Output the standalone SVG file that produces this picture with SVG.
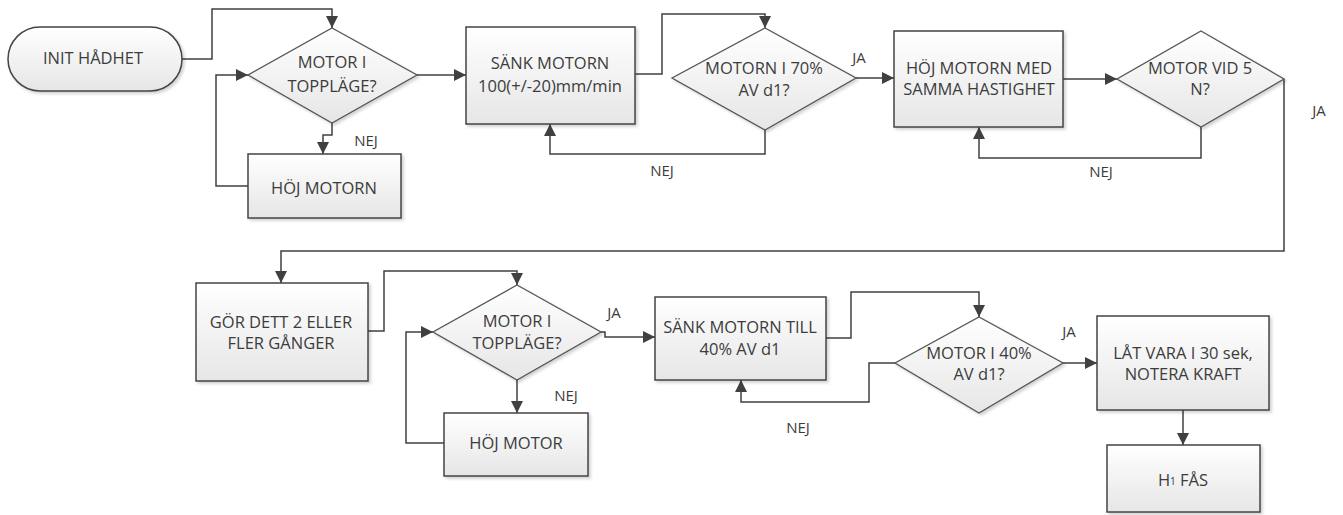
<svg xmlns="http://www.w3.org/2000/svg" width="1343" height="515" viewBox="0 0 1343 515">
<defs>
  <linearGradient id="g" x1="0" y1="0" x2="0" y2="1">
    <stop offset="0" stop-color="#ffffff"/>
    <stop offset="1" stop-color="#e6e6e6"/>
  </linearGradient>
  <filter id="sh" x="-10%" y="-10%" width="130%" height="130%">
    <feDropShadow dx="2" dy="2" stdDeviation="1.5" flood-color="#000" flood-opacity="0.18"/>
  </filter>
  <marker id="ah" markerUnits="userSpaceOnUse" markerWidth="12" markerHeight="12" refX="10" refY="5" orient="auto" viewBox="0 0 10 10">
    <path d="M0,0 L10,5 L0,10 z" fill="#404040"/>
  </marker>
</defs>
<style>
  .box{fill:url(#g);stroke:#444;stroke-width:1.5;filter:url(#sh)}
  .dia{fill:url(#g);stroke:#555;stroke-width:1.3;filter:url(#sh)}
  .t{font-family:"Open Sans","Liberation Sans",sans-serif;font-size:16.5px;fill:#3c3c3c;text-anchor:middle}
  .lb{font-family:"Open Sans","Liberation Sans",sans-serif;font-size:15px;fill:#3c3c3c;text-anchor:middle}
  .c{fill:none;stroke:#404040;stroke-width:1.5}
  .ca{fill:none;stroke:#404040;stroke-width:1.5;marker-end:url(#ah)}
</style>
<rect width="1343" height="515" fill="#ffffff"/>

<g id="connectors">
  <polyline class="ca" points="180,59 212,59 212,9 332,9 332,28"/>
  <polyline class="ca" points="417,75 466,75"/>
  <polyline class="ca" points="332,123 332,135 323,135 323,154"/>
  <polyline class="ca" points="248,186 216,186 216,75 248,75"/>
  <polyline class="ca" points="635,74 662,74 662,14 765,14 765,28"/>
  <polyline class="ca" points="856,78 894,78"/>
  <polyline class="ca" points="765,130 765,154 550,154 550,124"/>
  <polyline class="ca" points="1063,79 1117,79"/>
  <polyline class="ca" points="1201,127 1201,158 979,158 979,127"/>
  <polyline class="ca" points="1284,79 1284,251 281,251 281,283"/>
  <polyline class="ca" points="368,331 384,331 384,271 517,271 517,285"/>
  <polyline class="ca" points="601,332 605,332 605,337 655,337"/>
  <polyline class="ca" points="517,380 517,413"/>
  <polyline class="ca" points="444,443 406,443 406,332 433,332"/>
  <polyline class="ca" points="826,338 851,338 851,292 979,292 979,317"/>
  <polyline class="ca" points="895,363 869,363 869,402 741,402 741,380"/>
  <polyline class="ca" points="1063,363 1097,363"/>
  <polyline class="ca" points="1183,410 1183,445"/>
  <text class="lb" x="366" y="146">NEJ</text>
  <text class="lb" x="859" y="63">JA</text>
  <text class="lb" x="662" y="176">NEJ</text>
  <text class="lb" x="1101" y="177">NEJ</text>
  <text class="lb" x="1319" y="116">JA</text>
  <text class="lb" x="614" y="318">JA</text>
  <text class="lb" x="566" y="401">NEJ</text>
  <text class="lb" x="798" y="433">NEJ</text>
  <text class="lb" x="1069" y="337">JA</text>
</g>

<g id="init">
  <rect class="box" x="8" y="27" width="174" height="64" rx="32" ry="32"/>
  <text class="t" x="93" y="64">INIT HÅDHET</text>
</g>
<g id="d1">
  <polygon class="dia" points="332,28 417,75 332,123 248,75"/>
  <text class="t" x="332" y="68">MOTOR I</text>
  <text class="t" x="332" y="92">TOPPLÄGE?</text>
</g>
<g id="hoj1">
  <rect class="box" x="248" y="154" width="153" height="64"/>
  <text class="t" x="324" y="194">HÖJ MOTORN</text>
</g>
<g id="sank1">
  <rect class="box" x="466" y="27" width="169" height="97"/>
  <text class="t" x="550" y="69">SÄNK MOTORN</text>
  <text class="t" x="550" y="92">100(+/-20)mm/min</text>
</g>
<g id="d2">
  <polygon class="dia" points="765,28 856,78 765,130 672,78"/>
  <text class="t" x="764" y="74">MOTORN I 70%</text>
  <text class="t" x="764" y="96">AV d1?</text>
</g>
<g id="hoj2">
  <rect class="box" x="894" y="31" width="169" height="96"/>
  <text class="t" x="979" y="74">HÖJ MOTORN MED</text>
  <text class="t" x="979" y="95">SAMMA HASTIGHET</text>
</g>
<g id="d3">
  <polygon class="dia" points="1201,31 1284,79 1201,127 1117,79"/>
  <text class="t" x="1200" y="74">MOTOR VID 5</text>
  <text class="t" x="1200" y="95">N?</text>
</g>
<g id="gor">
  <rect class="box" x="196" y="283" width="172" height="98"/>
  <text class="t" x="281" y="328">GÖR DETT 2 ELLER</text>
  <text class="t" x="281" y="349">FLER GÅNGER</text>
</g>
<g id="d4">
  <polygon class="dia" points="517,285 601,332 517,380 433,332"/>
  <text class="t" x="517" y="327">MOTOR I</text>
  <text class="t" x="517" y="349">TOPPLÄGE?</text>
</g>
<g id="hoj3">
  <rect class="box" x="444" y="413" width="144" height="63"/>
  <text class="t" x="516" y="449">HÖJ MOTOR</text>
</g>
<g id="sank2">
  <rect class="box" x="655" y="297" width="171" height="83"/>
  <text class="t" x="740" y="333">SÄNK MOTORN TILL</text>
  <text class="t" x="740" y="355">40% AV d1</text>
</g>
<g id="d5">
  <polygon class="dia" points="979,317 1063,363 979,413 895,363"/>
  <text class="t" x="979" y="359">MOTOR I 40%</text>
  <text class="t" x="979" y="380">AV d1?</text>
</g>
<g id="lat">
  <rect class="box" x="1097" y="316" width="172" height="94"/>
  <text class="t" x="1183" y="359">LÅT VARA I 30 sek,</text>
  <text class="t" x="1183" y="380">NOTERA KRAFT</text>
</g>
<g id="h1">
  <rect class="box" x="1107" y="445" width="153" height="67"/>
  <text class="t" x="1183" y="486">H<tspan font-size="10" dy="-1">1</tspan><tspan dy="1"> FÅS</tspan></text>
</g>
</svg>
